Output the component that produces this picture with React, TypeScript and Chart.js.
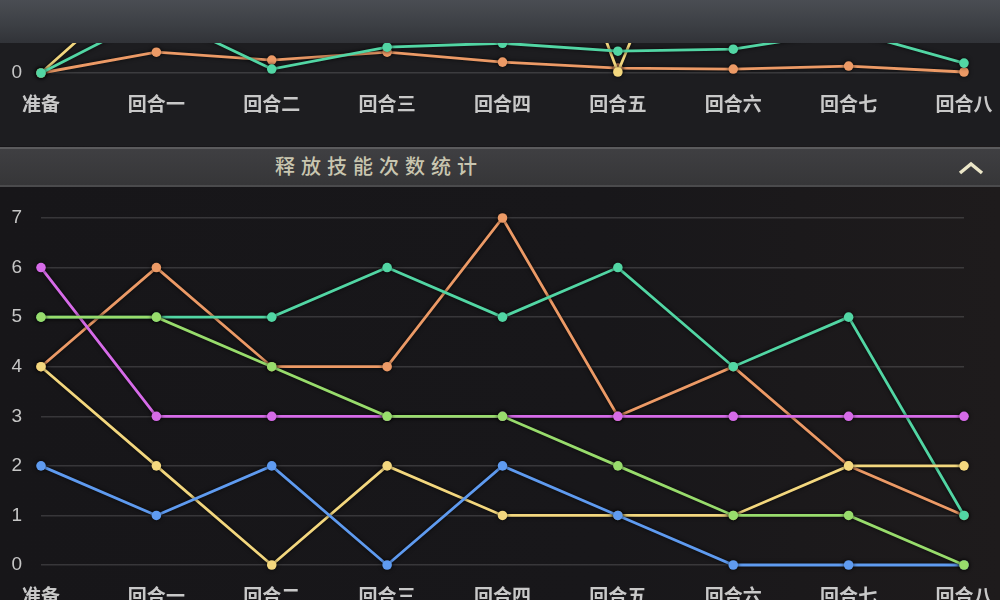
import React, { useEffect, useRef } from "react";
import { Chart, registerables } from "chart.js";

Chart.register(...registerables);

// ---- data ----
const rounds = ["准备", "回合一", "回合二", "回合三", "回合四", "回合五", "回合六", "回合七", "回合八"];

// bottom chart: 释放技能次数统计
const skillGreen = [5, 5, 4, 3, 3, 2, 1, 1, 0];
const skillBlue = [2, 1, 2, 0, 2, 1, 0, 0, 0];
const skillYellow = [4, 2, 0, 2, 1, 1, 1, 2, 2];
const skillPurple = [6, 3, 3, 3, 3, 3, 3, 3, 3];
const skillTeal = [5, 5, 5, 6, 5, 6, 4, 5, 1];
const skillOrange = [4, 6, 4, 4, 7, 3, 4, 2, 1];
const skillMax = 7;
const skillStep = 1;

// top chart (only its lower edge is visible)
const topTeal = [0, 11900, 800, 5200, 6000, 4400, 4800, 8500, 2000];
const topYellow = [0, 20800, 30000, 45000, 61700, 200, 56500, 40000, 35000];
const topOrange = [0, 4200, 2600, 4200, 2200, 1000, 800, 1400, 200];
const topMax = 70000;
const topStep = 10000;

const colors = {
  green: "#98dc6c",
  blue: "#5f9bf0",
  yellow: "#f3d77e",
  purple: "#d66be8",
  teal: "#52d6a4",
  orange: "#ec9a66",
};

const shadowPlugin = {
  id: "lineShadow",
  beforeDatasetDraw(chart: any) {
    const c = chart.ctx;
    c.save();
    c.shadowColor = "rgba(0,0,0,0.75)";
    c.shadowBlur = 4;
  },
  afterDatasetDraw(chart: any) {
    chart.ctx.restore();
  },
};

function ds(data: number[], color: string) {
  return {
    data,
    borderColor: color,
    backgroundColor: color,
    pointBackgroundColor: color,
    pointBorderWidth: 0,
    pointRadius: 4.8,
    borderWidth: 2.8,
    tension: 0,
    fill: false,
    clip: false,
  };
}

function makeConfig(datasets: any[], yMax: number, yStep: number): any {
  return {
    type: "line",
    data: { labels: rounds, datasets },
    plugins: [shadowPlugin],
    options: {
      animation: false,
      responsive: false,
      layout: { padding: { top: 28, right: 36, left: 0, bottom: 0 } },
      plugins: { legend: { display: false }, tooltip: { enabled: false } },
      scales: {
        x: {
          grid: { display: false, drawTicks: false },
          border: { display: false },
          ticks: {
            color: "#c8c8c8",
            font: { family: '"Noto Sans CJK SC"', size: 19, weight: "bold" },
            padding: 19,
            maxRotation: 0,
            autoSkip: false,
          },
          afterFit(s: any) {
            s.height = 55;
            s.paddingLeft = 0;
            s.paddingRight = 0;
          },
        },
        y: {
          min: 0,
          max: yMax,
          ticks: {
            stepSize: yStep,
            color: "#c6c6c6",
            font: { family: '"Liberation Sans"', size: 19 },
            padding: 19,
          },
          grid: { color: "rgba(255,255,255,0.14)", lineWidth: 1.5, drawTicks: false },
          border: { display: false },
          afterFit(s: any) {
            s.width = 41;
            s.paddingTop = 0;
            s.paddingBottom = 0;
          },
        },
      },
    },
  };
}

export default function App() {
  const topRef = useRef<HTMLCanvasElement>(null);
  const botRef = useRef<HTMLCanvasElement>(null);

  useEffect(() => {
    const top = new Chart(
      topRef.current as HTMLCanvasElement,
      makeConfig(
        [ds(topTeal, colors.teal), ds(topYellow, colors.yellow), ds(topOrange, colors.orange)],
        topMax,
        topStep
      )
    );
    const bot = new Chart(
      botRef.current as HTMLCanvasElement,
      makeConfig(
        [
          ds(skillGreen, colors.green),
          ds(skillBlue, colors.blue),
          ds(skillYellow, colors.yellow),
          ds(skillPurple, colors.purple),
          ds(skillTeal, colors.teal),
          ds(skillOrange, colors.orange),
        ],
        skillMax,
        skillStep
      )
    );
    return () => {
      top.destroy();
      bot.destroy();
    };
  }, []);

  return (
    <div
      style={{
        position: "fixed",
        left: 0,
        top: 0,
        width: 1000,
        height: 600,
        overflow: "hidden",
        background: "linear-gradient(90deg,#171619 0%,#18171a 60%,#1e1b1c 100%)",
      }}
    >
      <div
        style={{
          position: "absolute",
          left: 0,
          top: 0,
          width: 1000,
          height: 43,
          background: "linear-gradient(180deg,#4a4d53 0%,#3d4045 55%,#313338 100%)",
        }}
      />
      <div
        style={{
          position: "absolute",
          left: 0,
          top: 43,
          width: 1000,
          height: 103,
          overflow: "hidden",
          background: "#1d1d20",
        }}
      >
        <canvas
          ref={topRef}
          width={1000}
          height={430}
          style={{ position: "absolute", left: 0, top: -345, width: 1000, height: 430 }}
        />
      </div>
      <div
        style={{
          position: "absolute",
          left: 0,
          top: 147,
          width: 1000,
          height: 36,
          background: "linear-gradient(180deg,#3f3f42 0%,#363638 100%)",
          borderTop: "2px solid #5b5b5d",
          borderBottom: "2px solid #4b4b4d",
        }}
      >
        <span
          style={{
            position: "absolute",
            left: 275,
            top: 5,
            fontFamily: '"Noto Sans CJK SC"',
            fontSize: 20,
            fontWeight: 500,
            lineHeight: "24px",
            letterSpacing: 6,
            color: "#c9c6b0",
          }}
        >
          释放技能次数统计
        </span>
        <svg
          width={26}
          height={14}
          style={{ position: "absolute", left: 958, top: 12 }}
          viewBox="0 0 26 14"
        >
          <polyline points="2,12 13,3 24,12" fill="none" stroke="#ebe6c8" strokeWidth={3.5} />
        </svg>
      </div>
      <canvas
        ref={botRef}
        width={1000}
        height={430}
        style={{ position: "absolute", left: 0, top: 190, width: 1000, height: 430 }}
      />
    </div>
  );
}
